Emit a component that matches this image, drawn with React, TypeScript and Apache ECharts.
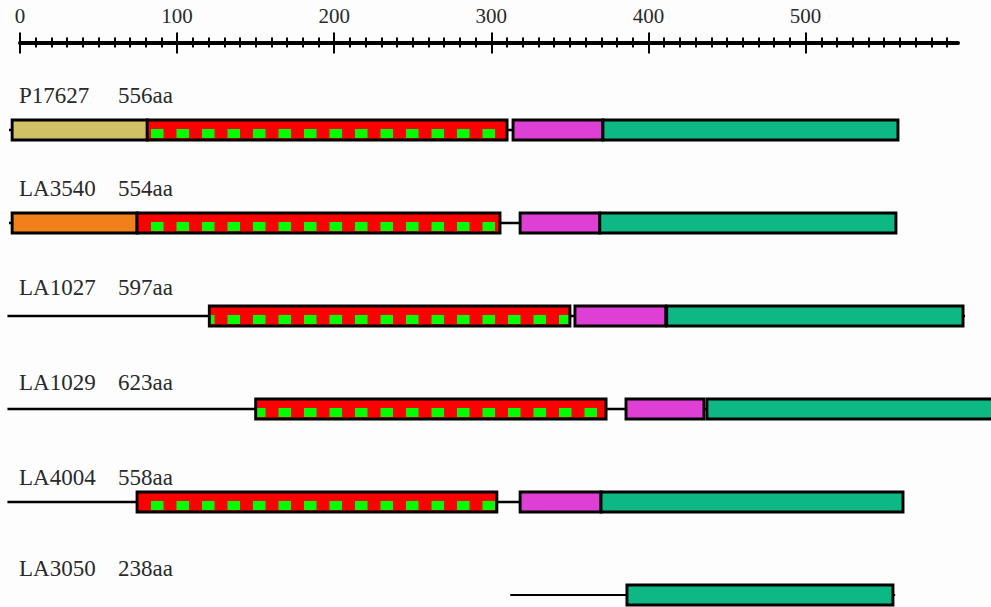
import React, { useEffect, useRef } from "react";
import * as echarts from "echarts";

const ROW_NAMES = ["P17627", "LA3540", "LA1027", "LA1029", "LA4004", "LA3050"];
const ROW_LENGTHS = ["556aa", "554aa", "597aa", "623aa", "558aa", "238aa"];
// [row, start, end]
const BACKBONE = [
  [0, -7, 559],
  [1, -7, 558],
  [2, -8, 601.5],
  [3, -8, 625],
  [4, -8, 562],
  [5, 312, 557],
];
const LEADER_DOMAINS = [
  [0, -5, 81],
  [1, -5, 74.5],
];
const REPEAT_DOMAINS = [
  [0, 81, 310],
  [1, 74.5, 305.5],
  [2, 120.5, 350],
  [3, 150, 373],
  [4, 74.5, 303.5],
];
const LINKER_DOMAINS = [
  [0, 313.8, 371],
  [1, 318.3, 369],
  [2, 353.2, 411],
  [3, 385.7, 435.3],
  [4, 318.3, 369.8],
];
const TAIL_DOMAINS = [
  [0, 371, 558.8],
  [1, 369, 557.5],
  [2, 411.6, 600.2],
  [3, 437.2, 625],
  [4, 369.8, 562],
  [5, 386.3, 555.6],
];
const AXIS_MAX = 597;
const MAJOR_TICKS = [0, 100, 200, 300, 400, 500];
const MINOR_TICKS: number[] = [];
for (let v = 10; v < AXIS_MAX; v += 10) if (v % 100 !== 0) MINOR_TICKS.push(v);

// ---- styles ----
const LEADER_COLORS = ["#D1C166", "#F2801A"];
const RED = "#FF0000";
const SQUARE = "#00FF00";
const MAGENTA = "#DE40D6";
const TEAL = "#0EB884";
const FONT = '"Liberation Serif", "DejaVu Serif", serif';
const TEXT = "#2a2a2a";
const LABEL_DY = [-35, -35, -29, -27, -25, -27];
const BAR_HALF = 10;
const BORDER = 2.9;

function boxRender(getColor: (row: number) => string) {
  return (params: any, api: any) => {
    const row = api.value(0);
    const p0 = api.coord([api.value(1), row]);
    const p1 = api.coord([api.value(2), row]);
    return {
      type: "rect",
      shape: { x: p0[0], y: p0[1] - BAR_HALF, width: p1[0] - p0[0], height: BAR_HALF * 2 },
      style: { fill: getColor(row), stroke: "#000", lineWidth: BORDER },
    };
  };
}

function repeatRender(params: any, api: any) {
  const row = api.value(0);
  const p0 = api.coord([api.value(1), row]);
  const p1 = api.coord([api.value(2), row]);
  const zero = api.coord([0, row])[0];
  const x0 = p0[0];
  const x1 = p1[0];
  const cy = p0[1];
  const children: any[] = [
    {
      type: "rect",
      shape: { x: x0, y: cy - BAR_HALF, width: x1 - x0, height: BAR_HALF * 2 },
      style: { fill: RED, stroke: "#000", lineWidth: BORDER },
    },
  ];
  const period = 25.5;
  const sqW = 12.5;
  const origin = zero + 131;
  let x = origin - Math.ceil((origin - x0) / period) * period;
  for (; x < x1; x += period) {
    const a = Math.max(x, x0 + 1.6);
    const b = Math.min(x + sqW, x1 - 1.6);
    if (b > a) {
      children.push({
        type: "rect",
        shape: { x: a, y: cy - 1, width: b - a, height: 9 },
        style: { fill: SQUARE },
      });
    }
  }
  return { type: "group", children };
}

function backboneRender(params: any, api: any) {
  const row = api.value(0);
  const p0 = api.coord([api.value(1), row]);
  const p1 = api.coord([api.value(2), row]);
  return {
    type: "line",
    shape: { x1: p0[0], y1: p0[1], x2: p1[0], y2: p1[1] },
    style: { stroke: "#000", lineWidth: row === 5 ? 2 : 2.6 },
  };
}

function labelRender(params: any, api: any) {
  const row = api.value(0);
  const p = api.coord([0, row]);
  const y = p[1] + LABEL_DY[row];
  return {
    type: "group",
    children: [
      {
        type: "text",
        x: p[0] - 1,
        y,
        style: { text: ROW_NAMES[row], font: `23px ${FONT}`, fill: TEXT, verticalAlign: "middle", align: "left" },
      },
      {
        type: "text",
        x: p[0] + 98,
        y,
        style: { text: ROW_LENGTHS[row], font: `23px ${FONT}`, fill: TEXT, verticalAlign: "middle", align: "left" },
      },
    ],
  };
}

function rulerAxis(ticks: number[], len: number, inside: boolean, labels: boolean, showLine: boolean) {
  return {
    type: "value",
    min: 0,
    max: AXIS_MAX,
    position: "top",
    offset: 41,
    gridIndex: 0,
    axisLine: { show: showLine, lineStyle: { color: "#000", width: 4 } },
    axisTick: {
      show: true,
      inside,
      customValues: ticks,
      length: len,
      lineStyle: { color: "#000", width: 2 },
    },
    axisLabel: labels
      ? { show: true, customValues: MAJOR_TICKS, fontSize: 21, fontFamily: FONT, color: TEXT, margin: 16 }
      : { show: false },
    splitLine: { show: false },
  };
}

export default function App() {
  const ref = useRef<HTMLDivElement>(null);
  useEffect(() => {
    if (!ref.current) return;
    const chart = echarts.init(ref.current, undefined, { renderer: "svg" });
    const enc = { x: [1, 2], y: 0 };
    chart.setOption({
      animation: false,
      backgroundColor: "#fdfdfd",
      grid: { left: 20, width: 938, top: 83.5, height: 558, containLabel: false, outerBoundsMode: "none" },
      xAxis: [
        rulerAxis(MAJOR_TICKS, 10, false, true, true),
        rulerAxis(MAJOR_TICKS, 11, true, false, false),
        rulerAxis(MINOR_TICKS, 5, false, false, false),
        rulerAxis(MINOR_TICKS, 5, true, false, false),
      ],
      yAxis: { type: "category", data: ROW_NAMES, inverse: true, show: false },
      series: [
        { type: "custom", clip: false, z: 1, renderItem: backboneRender, data: BACKBONE, encode: enc },
        {
          type: "custom",
          clip: false,
          z: 2,
          renderItem: boxRender((r) => LEADER_COLORS[r]),
          data: LEADER_DOMAINS,
          encode: enc,
        },
        { type: "custom", clip: false, z: 3, renderItem: repeatRender, data: REPEAT_DOMAINS, encode: enc },
        { type: "custom", clip: false, z: 2, renderItem: boxRender(() => MAGENTA), data: LINKER_DOMAINS, encode: enc },
        { type: "custom", clip: false, z: 2, renderItem: boxRender(() => TEAL), data: TAIL_DOMAINS, encode: enc },
        {
          type: "custom",
          clip: false,
          z: 4,
          renderItem: labelRender,
          data: ROW_NAMES.map((_, i) => [i]),
          encode: { y: 0 },
        },
      ],
    });
    return () => chart.dispose();
  }, []);
  return (
    <div
      ref={ref}
      style={{ position: "fixed", left: 0, top: 0, width: 991, height: 607, background: "#fdfdfd" }}
    />
  );
}
